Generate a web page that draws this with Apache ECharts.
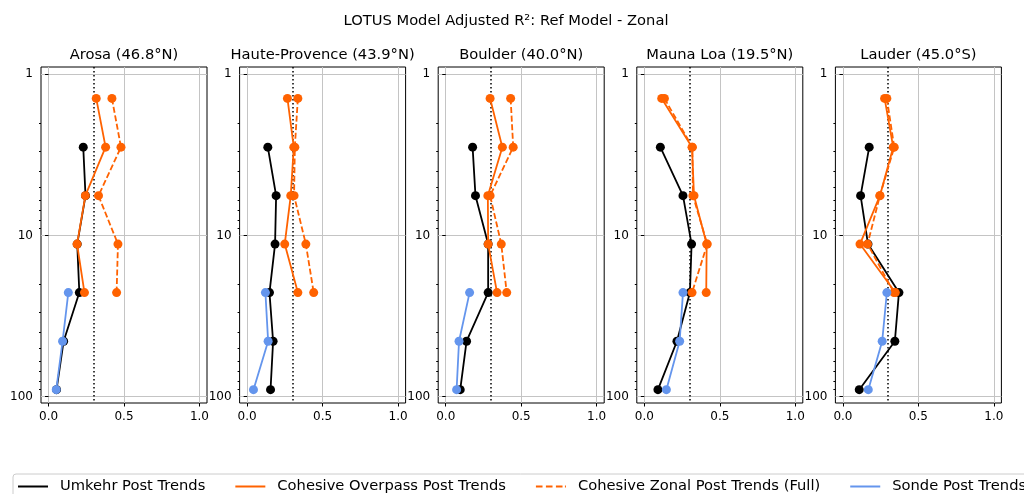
<!DOCTYPE html>
<html><head><meta charset="utf-8">
<script src="https://cdn.jsdelivr.net/npm/echarts@6/dist/echarts.min.js"></script>
<style>html,body{margin:0;padding:0;background:#fff}#c{width:1024px;height:494px}</style>
</head><body><div id="c"></div>
<script>
// ---- data ----
const stations = ['Arosa (46.8°N)', 'Haute-Provence (43.9°N)', 'Boulder (40.0°N)', 'Mauna Loa (19.5°N)', 'Lauder (45.0°S)'];
const levels = [1.41, 2.83, 5.66, 11.3, 22.6, 45.3, 90.5];
const yTicks = [1, 10, 100];
const yMinorTicks = [2, 3, 4, 5, 6, 7, 8, 9, 20, 30, 40, 50, 60, 70, 80, 90];
const xTicks = [0, 0.5, 1.0];
const refLine = 0.3;

const umkehr = [
  [null, 0.230, 0.245, 0.190, 0.204, 0.100, 0.053],
  [null, 0.137, 0.192, 0.185, 0.148, 0.172, 0.155],
  [null, 0.178, 0.197, 0.281, 0.281, 0.138, 0.096],
  [null, 0.106, 0.256, 0.313, 0.302, 0.216, 0.090],
  [null, 0.174, 0.117, 0.166, 0.371, 0.344, 0.108]
];
const overpass = [
  [0.316, 0.378, 0.244, 0.189, 0.238, null, null],
  [0.267, 0.309, 0.289, 0.249, 0.336, null, null],
  [0.294, 0.375, 0.279, 0.281, 0.340, null, null],
  [0.115, 0.316, 0.329, 0.413, 0.410, null, null],
  [0.276, 0.333, 0.245, 0.113, 0.347, null, null]
];
const zonal = [
  [0.420, 0.480, 0.331, 0.460, 0.451, null, null],
  [0.336, 0.316, 0.311, 0.389, 0.441, null, null],
  [0.430, 0.447, 0.294, 0.368, 0.404, null, null],
  [0.133, 0.318, 0.322, 0.417, 0.316, null, null],
  [0.291, 0.340, 0.245, 0.163, 0.338, null, null]
];
const sonde = [
  [null, null, null, null, 0.131, 0.093, 0.051],
  [null, null, null, null, 0.121, 0.139, 0.042],
  [null, null, null, null, 0.158, 0.088, 0.072],
  [null, null, null, null, 0.256, 0.234, 0.146],
  [null, null, null, null, 0.291, 0.260, 0.168]
];

const names = ['Umkehr Post Trends', 'Cohesive Overpass Post Trends', 'Cohesive Zonal Post Trends (Full)', 'Sonde Post Trends'];
const colors = ['#000000', '#ff6200', '#ff6200', '#6495ed'];

// ---- layout ----
const FONT = 'DejaVu Sans';
const gLeft0 = 41, gStep = 198.6, gWidth = 166, gTop = 67, gHeight = 336;

function pairs(vals) {
  const out = [];
  vals.forEach((v, i) => { if (v !== null) out.push([v, levels[i]]); });
  return out;
}

const grids = [], xAxes = [], yAxes = [], series = [], graphics = [];
stations.forEach((st, p) => {
  const left = gLeft0 + p * gStep;
  grids.push({left: left, top: gTop, width: gWidth, height: gHeight, show: true,
    borderColor: '#000', borderWidth: 1, backgroundColor: 'transparent', containLabel: false});
  xAxes.push({type: 'value', gridIndex: p, min: -0.05, max: 1.05,
    axisLine: {show: false},
    axisTick: {show: true, length: 3.5, lineStyle: {color: '#000', width: 1}, customValues: xTicks},
    axisLabel: {show: true, customValues: xTicks, formatter: v => v.toFixed(1), fontSize: 12, color: '#000', fontFamily: FONT, margin: 8},
    splitLine: {show: false}});
  yAxes.push({type: 'log', logBase: 10, gridIndex: p, min: 0.9, max: 109.5, inverse: true, position: 'left',
    axisLine: {show: false},
    axisTick: {show: true, length: 3.5, lineStyle: {color: '#000', width: 1}, customValues: yTicks},
    axisLabel: {show: true, customValues: yTicks, formatter: v => String(Math.round(v)), fontSize: 12, color: '#000', fontFamily: FONT, margin: 8},
    splitLine: {show: false}});
  yAxes.push({type: 'log', logBase: 10, gridIndex: p, min: 0.9, max: 109.5, inverse: true, position: 'left',
    axisLine: {show: false},
    axisTick: {show: true, length: 2, lineStyle: {color: '#000', width: 1}, customValues: yMinorTicks},
    axisLabel: {show: false}, splitLine: {show: false}});
  const xi = p, yi = 2 * p;
  // grid lines + reference dotted line
  series.push({type: 'line', name: '_grid' + p, xAxisIndex: xi, yAxisIndex: yi, data: [], silent: true,
    markLine: {silent: true, symbol: 'none', label: {show: false}, z: 0,
      lineStyle: {color: '#c4c4c4', width: 1, type: 'solid'},
      data: xTicks.map(v => ({xAxis: v})).concat(yTicks.map(v => ({yAxis: v})))}});
  series.push({type: 'line', name: '_ref' + p, xAxisIndex: xi, yAxisIndex: yi, data: [], silent: true,
    markLine: {silent: true, symbol: 'none', label: {show: false}, z: 1,
      lineStyle: {color: '#000', width: 1.5, type: [1.5, 2.5]},
      data: [{xAxis: refLine}]}});
  const sets = [umkehr[p], overpass[p], zonal[p], sonde[p]];
  sets.forEach((vals, k) => {
    series.push({type: 'line', name: names[k], xAxisIndex: xi, yAxisIndex: yi,
      data: pairs(vals), symbol: 'circle', symbolSize: 9, showSymbol: true, z: 2 + k * 0.1,
      lineStyle: {color: colors[k], width: 1.8, type: k === 2 ? [6, 2.6] : 'solid'},
      itemStyle: {color: colors[k], borderWidth: 0},
      emphasis: {disabled: true}, animation: false});
  });
  graphics.push({type: 'text', x: left + gWidth / 2, y: 55,
    style: {text: st, fontSize: 14.7, fontFamily: FONT, fill: '#000', textAlign: 'center', textVerticalAlign: 'middle'}});
});
graphics.push({type: 'text', x: 506, y: 21,
  style: {text: 'LOTUS Model Adjusted R²: Ref Model - Zonal', fontSize: 14.7, fontFamily: FONT, fill: '#000', textAlign: 'center', textVerticalAlign: 'middle'}});

const option = {
  animation: false,
  backgroundColor: '#fff',
  textStyle: {fontFamily: FONT},
  grid: grids, xAxis: xAxes, yAxis: yAxes, series: series,
  graphic: graphics,
  legend: {
    left: 13, top: 474, width: 1300,
    padding: [5, 5, 5, 5],
    itemWidth: 30, itemHeight: 2, itemGap: 30,
    borderColor: '#cccccc', borderWidth: 1, borderRadius: 3,
    selectedMode: false,
    itemStyle: {borderWidth: 0},
    textStyle: {fontSize: 14.7, color: '#000', fontFamily: FONT, padding: [0, 0, 0, 7]},
    data: [
      {name: names[0], icon: 'rect'},
      {name: names[1], icon: 'rect'},
      {name: names[2], icon: 'path://M0,0h6.6v2h-6.6z M10,0h6.6v2h-6.6z M20,0h6.6v2h-6.6z M29,0h1v2h-1z'},
      {name: names[3], icon: 'rect'}
    ]
  }
};
const chart = echarts.init(document.getElementById('c'), null, {renderer: 'canvas'});
chart.setOption(option);
</script></body></html>
